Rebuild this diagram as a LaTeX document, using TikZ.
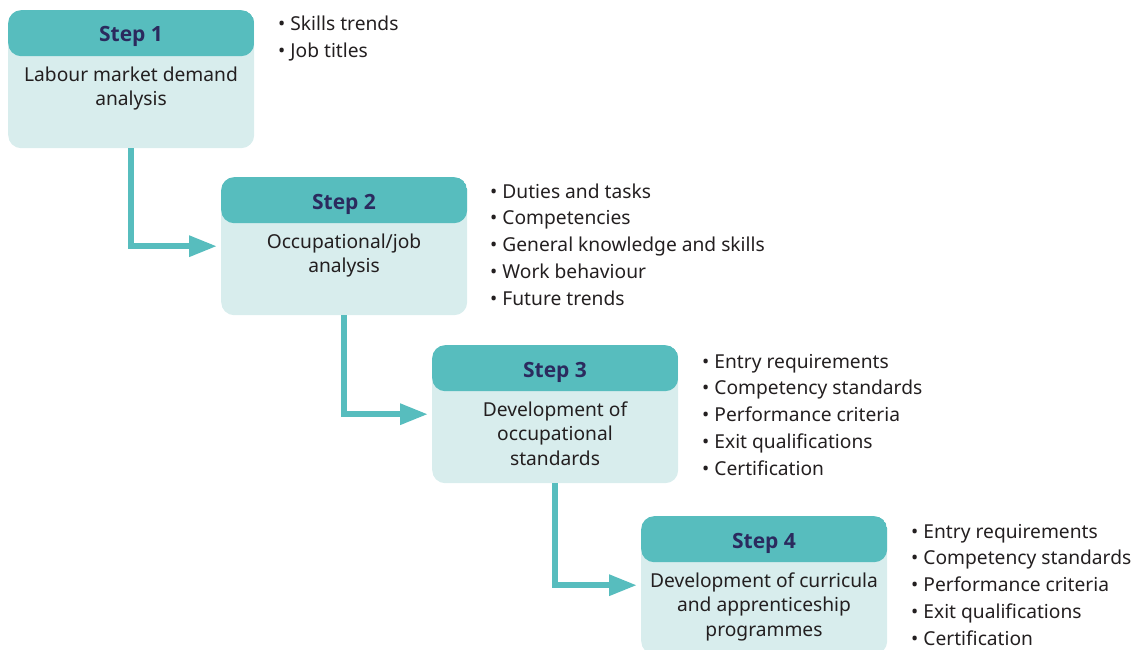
\documentclass[tikz,border=0pt]{standalone}
\usepackage{fontspec}
\setmainfont{Noto Sans}
\newfontfamily\headfont{Open Sans}
\usetikzlibrary{arrows.meta}
\definecolor{headc}{HTML}{57BDBE}
\definecolor{bodyc}{HTML}{D8EDED}
\definecolor{navyc}{HTML}{2B2A5E}
\definecolor{textc}{HTML}{231F20}
\tikzset{
  stepbox/.style={rectangle, rounded corners=13pt, fill=bodyc, minimum width=246pt, minimum height=138pt, inner sep=0pt, anchor=north west,
    path picture={\fill[headc] (path picture bounding box.north west) rectangle ([yshift=-46pt]path picture bounding box.north east);}},
  headtxt/.style={font=\headfont\fontsize{21}{24}\selectfont\bfseries, text=navyc, anchor=base, inner sep=0pt},
  bodytxt/.style={font=\fontsize{19.2}{24.5}\selectfont, text=textc, align=center, anchor=base, inner sep=0pt},
  itemtxt/.style={font=\fontsize{19.2}{27}\selectfont, text=textc, anchor=base west, inner sep=0pt},
  conn/.style={draw=headc, line width=6pt, -{Triangle[length=28pt,width=20pt]}, shorten >=4pt}
}
\begin{document}
\begin{tikzpicture}[x=1pt,y=-1pt]
\useasboundingbox (0,0) rectangle (1137,650);
\clip (0,0) rectangle (1137,650);
% boxes
\node[stepbox] (s1) at (8,10) {};
\node[stepbox] (s2) at (221,177) {};
\node[stepbox] (s3) at (432,345) {};
\node[stepbox] (s4) at (641,516) {};
% headers
\node[headtxt] (h1) at (131,42) {Step 1};
\node[headtxt] (h2) at (344,209) {Step 2};
\node[headtxt] (h3) at (555,377) {Step 3};
\node[headtxt] (h4) at (764,548) {Step 4};
% body (base anchor = last line)
\node[bodytxt] (b1) at (131,106) {Labour market demand\\analysis};
\node[bodytxt] (b2) at (344,272.5) {Occupational/job\\analysis};
\node[bodytxt] (b3) at (555,465) {Development of\\occupational\\standards};
\node[bodytxt] (b4) at (764,636) {Development of curricula\\and apprenticeship\\programmes};
% connectors
\draw[conn] (s1.south) |- (s2.west);
\draw[conn] (s2.south) |- (s3.west);
\draw[conn] (s3.south) |- (s4.west);
% lists
\foreach \t [count=\i] in {Skills trends, Job titles}
  \node[itemtxt] (la\i) at (278,{31+26.8*(\i-1)}) {• \t};
\foreach \t [count=\i] in {Duties and tasks, Competencies, General knowledge and skills, Work behaviour, Future trends}
  \node[itemtxt] (lb\i) at (490,{198+26.8*(\i-1)}) {• \t};
\foreach \t [count=\i] in {Entry requirements, Competency standards, Performance criteria, Exit qualifications, Certification}
  \node[itemtxt] (lc\i) at (702,{368+26.8*(\i-1)}) {• \t};
\foreach \t [count=\i] in {Entry requirements, Competency standards, Performance criteria, Exit qualifications, Certification}
  \node[itemtxt] (ld\i) at (911,{538+26.8*(\i-1)}) {• \t};
\end{tikzpicture}
\end{document}
